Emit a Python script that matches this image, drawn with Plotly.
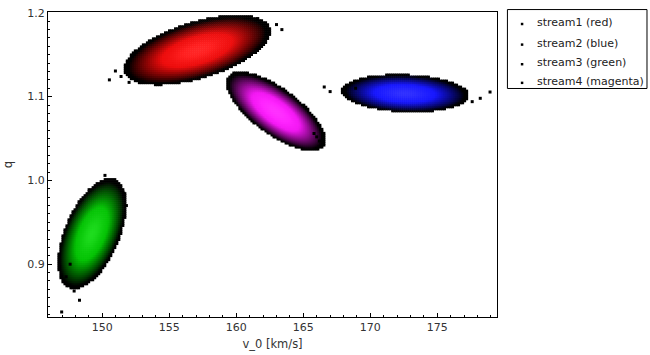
import numpy as np
import plotly.graph_objects as go

# ---- data ----
stream_names = ["stream1 (red)", "stream2 (blue)", "stream3 (green)", "stream4 (magenta)"]
center_v = [157.1, 172.6, 149.25, 162.95]      # km/s
center_q = [1.1555, 1.1040, 0.9365, 1.0825]
sigma_v = [1.66, 1.44, 0.77, 1.12]
sigma_q = [0.0126, 0.0068, 0.0200, 0.0143]
corr = [0.54, -0.12, 0.52, -0.72]
base_rgb = [(232, 8, 8), (18, 18, 248), (0, 190, 0), (238, 20, 238)]

# isolated outlying samples (black)
outlier_v = [146.97, 147.9, 148.3, 150.2, 150.53, 150.98, 151.4, 152.0, 161.6, 166.56, 167.0, 178.93,
             178.2, 165.8, 166.2, 147.3, 168.9, 163.0, 163.4, 168.2, 177.6, 151.6, 166.0, 147.6, 151.8]
outlier_q = [0.843, 0.868, 0.857, 1.006, 1.120, 1.1306, 1.124, 1.117, 1.193, 1.1115, 1.106, 1.1055,
             1.098, 1.056, 1.047, 0.885, 1.110, 1.186, 1.180, 1.102, 1.094, 0.985, 1.052, 0.900, 0.970]

x_range = [145.95, 179.45]
y_range = [0.837, 1.201]

# ---- density grid ----
gv = np.arange(146.0, 179.4, 0.15)
gq = np.arange(0.838, 1.2, 0.0024)
V, Q = np.meshgrid(gv, gq)

fig = go.Figure()
for i in range(len(stream_names)):
    dv = (V - center_v[i]) / sigma_v[i]
    dq = (Q - center_q[i]) / sigma_q[i]
    r = corr[i]
    d2 = (dv**2 - 2 * r * dv * dq + dq**2) / (1 - r**2)
    d = np.sqrt(d2)
    m = d < 3.3
    dd = d[m]
    b = np.clip((3.08 - dd) / 1.5, 0, 1) ** 0.85
    w = 0.12 * np.exp(-dd**2 / 1.5)
    cr, cg, cb = base_rgb[i]
    cols = [f"rgb({int(min(255, cr*k + 255*h))},{int(min(255, cg*k + 255*h))},{int(min(255, cb*k + 255*h))})"
            for k, h in zip(b, w)]
    fig.add_trace(go.Scatter(
        x=V[m], y=Q[m], mode="markers",
        marker=dict(symbol="square", size=2.6, color=cols, line=dict(width=0)),
        showlegend=False, hoverinfo="skip"))

fig.add_trace(go.Scatter(x=outlier_v, y=outlier_q, mode="markers",
                         marker=dict(symbol="square", size=3, color="black"),
                         showlegend=False, hoverinfo="skip"))

font = "DejaVu Sans"
ax_common = dict(showline=True, linecolor="black", linewidth=1, mirror=True,
                 showgrid=False, zeroline=False, ticks="inside", ticklen=4,
                 tickcolor="black", tickfont=dict(family=font, size=11, color="#333"))
fig.update_xaxes(range=x_range, dtick=5, tick0=150,
                 minor=dict(ticks="inside", dtick=1, ticklen=2, tickcolor="black"),
                 title=dict(text="v_0 [km/s]", font=dict(family=font, size=11.5, color="#333"), standoff=6),
                 **ax_common)
fig.update_yaxes(range=y_range, dtick=0.1, tick0=0.9, tickformat=".1f",
                 minor=dict(ticks="inside", dtick=0.01, ticklen=2, tickcolor="black"),
                 title=dict(text="q", font=dict(family=font, size=11.5, color="#333"), standoff=12),
                 **ax_common)

L, R, T, B = 45, 153, 7, 37
W, H = 650, 355
pw, ph = W - L - R, H - T - B

def px(x):
    return (x - L) / pw

def py(y):
    return (H - B - y) / ph

shapes = [dict(type="rect", xref="paper", yref="paper", x0=px(507.5), x1=px(648), y0=py(85), y1=py(4.5),
               line=dict(color="black", width=1), fillcolor="white")]
annotations = []
for j, name in enumerate(stream_names):
    yc = [18, 39, 59, 78][j]
    annotations.append(dict(xref="paper", yref="paper", x=px(535), y=py(yc), text=name, showarrow=False,
                            xanchor="left", yanchor="middle", font=dict(family=font, size=11, color="#222")))
    shapes.append(dict(type="rect", xref="paper", yref="paper", x0=px(521), x1=px(523.5),
                       y0=py(yc + 2.5), y1=py(yc), fillcolor="black", line=dict(width=0)))

fig.update_layout(width=W, height=H, margin=dict(l=L, r=R, t=T, b=B),
                  paper_bgcolor="white", plot_bgcolor="white",
                  shapes=shapes, annotations=annotations, showlegend=False)
fig.write_html("out.html")
